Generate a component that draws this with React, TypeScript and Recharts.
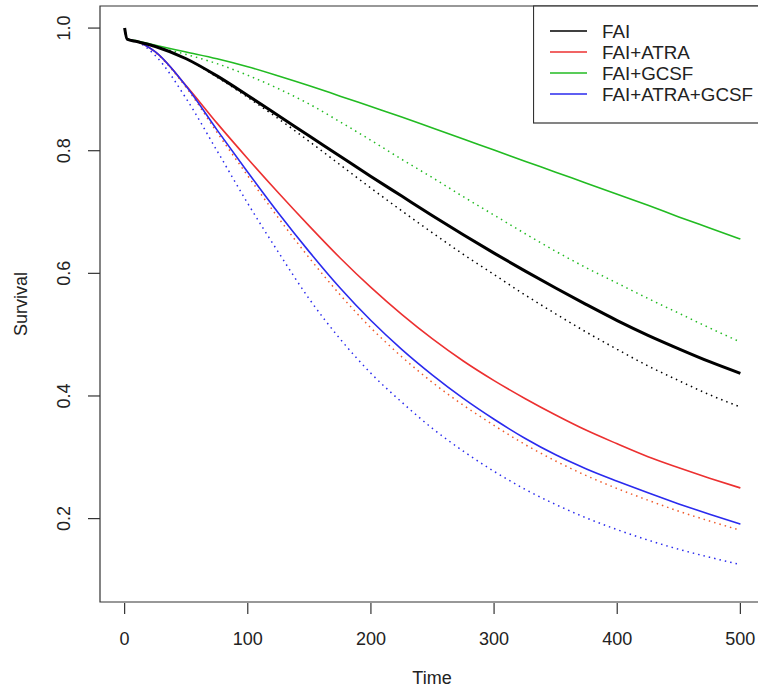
import React from 'react';
import { LineChart, Line, XAxis, YAxis, ReferenceArea } from 'recharts';

const times = [0, 2, 10, 25, 50, 75, 100, 125, 150, 175, 200, 225, 250, 275, 300, 325, 350, 375, 400, 425, 450, 475, 500];

// solid = observed fit, dotted = predicted
const faiSolid = [1.0, 0.982, 0.978, 0.97, 0.95, 0.922, 0.89, 0.857, 0.824, 0.791, 0.758, 0.726, 0.694, 0.663, 0.633, 0.604, 0.576, 0.549, 0.523, 0.499, 0.477, 0.456, 0.437];
const faiDotted = [1.0, 0.982, 0.978, 0.97, 0.95, 0.92, 0.887, 0.852, 0.815, 0.777, 0.739, 0.702, 0.666, 0.631, 0.598, 0.565, 0.534, 0.504, 0.476, 0.449, 0.425, 0.402, 0.382];
const atraSolid = [1.0, 0.982, 0.978, 0.961, 0.906, 0.845, 0.787, 0.731, 0.677, 0.625, 0.577, 0.533, 0.493, 0.457, 0.425, 0.396, 0.369, 0.344, 0.322, 0.301, 0.283, 0.266, 0.25];
const atraDotted = [1.0, 0.982, 0.978, 0.96, 0.903, 0.83, 0.759, 0.69, 0.625, 0.565, 0.511, 0.464, 0.422, 0.385, 0.352, 0.321, 0.294, 0.27, 0.249, 0.23, 0.212, 0.196, 0.181];
const gcsfSolid = [1.0, 0.982, 0.979, 0.972, 0.961, 0.95, 0.937, 0.922, 0.906, 0.889, 0.872, 0.855, 0.837, 0.819, 0.801, 0.783, 0.765, 0.747, 0.729, 0.711, 0.692, 0.674, 0.656];
const gcsfDotted = [1.0, 0.982, 0.978, 0.97, 0.957, 0.942, 0.923, 0.901, 0.876, 0.847, 0.817, 0.786, 0.756, 0.725, 0.695, 0.665, 0.636, 0.609, 0.584, 0.559, 0.535, 0.511, 0.488];
const bothSolid = [1.0, 0.982, 0.978, 0.961, 0.905, 0.834, 0.765, 0.698, 0.635, 0.576, 0.523, 0.476, 0.434, 0.396, 0.362, 0.331, 0.304, 0.281, 0.261, 0.242, 0.224, 0.207, 0.191];
const bothDotted = [1.0, 0.982, 0.978, 0.955, 0.885, 0.8, 0.714, 0.634, 0.558, 0.493, 0.437, 0.39, 0.347, 0.31, 0.277, 0.248, 0.223, 0.201, 0.182, 0.165, 0.15, 0.137, 0.125];

const xTicks = [0, 100, 200, 300, 400, 500];
const yTicks = [0.2, 0.4, 0.6, 0.8, 1.0];

const legendNames = ['FAI', 'FAI+ATRA', 'FAI+GCSF', 'FAI+ATRA+GCSF'];
const COLORS = ['#000000', '#ec3030', '#22bb22', '#2a2aee'];

const FONT = '"Liberation Sans", Arial, Helvetica, sans-serif';

const rows = times.map((t, i) => ({
  t,
  faiS: faiSolid[i],
  faiD: faiDotted[i],
  atraS: atraSolid[i],
  atraD: atraDotted[i],
  gcsfS: gcsfSolid[i],
  gcsfD: gcsfDotted[i],
  bothS: bothSolid[i],
  bothD: bothDotted[i],
}));

// eslint-disable-next-line @typescript-eslint/no-explicit-any
const XTick = (props: any) => {
  const { x, y, payload } = props;
  return (
    <g>
      <line x1={x} x2={x} y1={y + 1} y2={y + 12} stroke="#333" strokeWidth={1.2} />
      <text x={x} y={y + 43} textAnchor="middle" fontSize={18} fill="#222" fontFamily={FONT}>
        {payload.value}
      </text>
    </g>
  );
};

// eslint-disable-next-line @typescript-eslint/no-explicit-any
const YTick = (props: any) => {
  const { x, y, payload } = props;
  const bx = x - 30;
  return (
    <g>
      <line x1={x - 12} x2={x} y1={y} y2={y} stroke="#333" strokeWidth={1.2} />
      <text
        x={bx}
        y={y}
        textAnchor="middle"
        fontSize={18}
        fill="#222"
        fontFamily={FONT}
        transform={`rotate(-90, ${bx}, ${y})`}
      >
        {payload.value.toFixed(1)}
      </text>
    </g>
  );
};

const LegendBox = () => (
  <svg width={240} height={128} style={{ position: 'absolute', left: 533, top: 0 }}>
    <rect x={0.5} y={6} width={260} height={117} fill="#fff" stroke="#333" strokeWidth={1.2} />
    {legendNames.map((name, i) => {
      const cy = 31 + i * 21;
      return (
        <g key={name}>
          <line x1={17} x2={54} y1={cy} y2={cy} stroke={COLORS[i]} strokeWidth={1.5} />
          <text x={69} y={cy + 7} fontSize={18.8} fill="#222" fontFamily={FONT}>
            {name}
          </text>
        </g>
      );
    })}
  </svg>
);

export default function App() {
  return (
    <div style={{ position: 'absolute', left: 0, top: 0, width: 758, height: 698, overflow: 'hidden', background: '#fff' }}>
      <LineChart width={790} height={698} data={rows} margin={{ top: 6, right: 25, bottom: 0, left: 0 }}>
        <XAxis
          dataKey="t"
          type="number"
          domain={[-20, 520]}
          ticks={xTicks}
          axisLine={false}
          tickLine={false}
          tickSize={0}
          tickMargin={0}
          height={96}
          tick={<XTick />}
          interval={0}
          allowDataOverflow
        />
        <YAxis
          type="number"
          domain={[0.064, 1.036]}
          ticks={yTicks}
          axisLine={false}
          tickLine={false}
          tickSize={0}
          tickMargin={0}
          width={100}
          tick={<YTick />}
          interval={0}
          allowDataOverflow
        />
        <ReferenceArea x1={-20} x2={520} y1={0.064} y2={1.036} fill="none" stroke="#333" strokeWidth={1.2} ifOverflow="visible" />
        <Line dataKey="faiD" type="monotone" stroke={COLORS[0]} strokeWidth={1.5} strokeDasharray="1.5 4" dot={false} isAnimationActive={false} />
        <Line dataKey="atraD" type="monotone" stroke="#f05a2a" strokeWidth={1.5} strokeDasharray="1.5 4" dot={false} isAnimationActive={false} />
        <Line dataKey="gcsfD" type="monotone" stroke={COLORS[2]} strokeWidth={1.5} strokeDasharray="1.5 4" dot={false} isAnimationActive={false} />
        <Line dataKey="bothD" type="monotone" stroke={COLORS[3]} strokeWidth={1.5} strokeDasharray="1.5 4" dot={false} isAnimationActive={false} />
        <Line dataKey="gcsfS" type="monotone" stroke={COLORS[2]} strokeWidth={1.6} dot={false} isAnimationActive={false} />
        <Line dataKey="atraS" type="monotone" stroke={COLORS[1]} strokeWidth={1.6} dot={false} isAnimationActive={false} />
        <Line dataKey="bothS" type="monotone" stroke={COLORS[3]} strokeWidth={1.6} dot={false} isAnimationActive={false} />
        <Line dataKey="faiS" type="monotone" stroke={COLORS[0]} strokeWidth={3} dot={false} isAnimationActive={false} />
      </LineChart>
      <div style={{ position: 'absolute', left: 432, top: 668, transform: 'translateX(-50%)', fontFamily: FONT, fontSize: 18, color: '#222' }}>
        Time
      </div>
      <svg width={40} height={698} style={{ position: 'absolute', left: 0, top: 0 }}>
        <text x={27} y={304} textAnchor="middle" fontSize={18} fill="#222" fontFamily={FONT} transform="rotate(-90, 27, 304)">
          Survival
        </text>
      </svg>
      <LegendBox />
    </div>
  );
}
